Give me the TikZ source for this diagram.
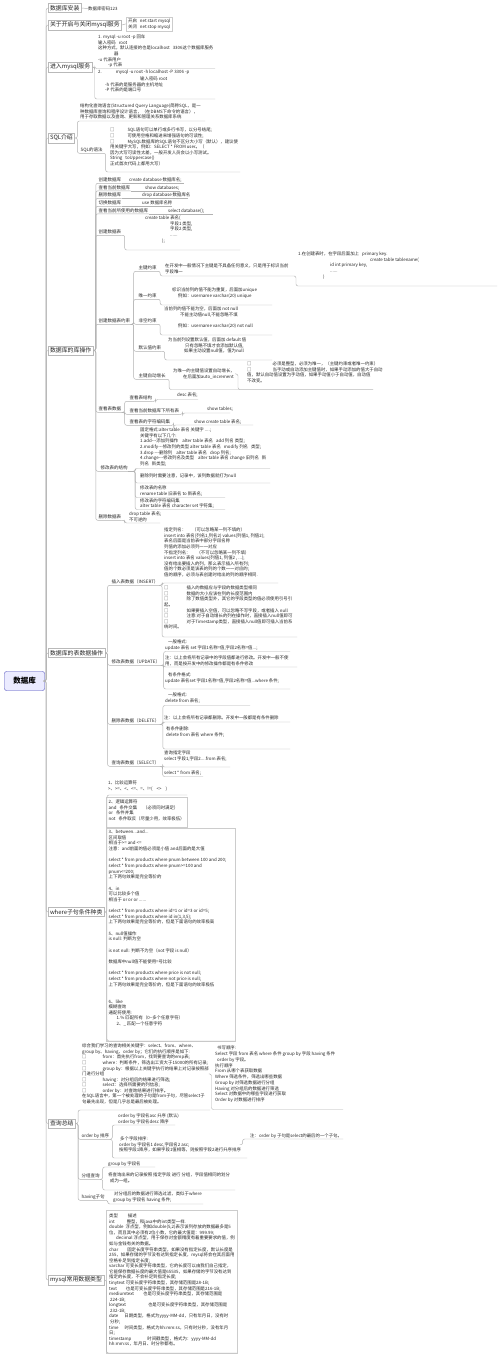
\documentclass[tikz,border=0pt]{standalone}
\usepackage{fontspec}
\setmainfont{Noto Sans CJK SC}
\usetikzlibrary{shadows}
\begin{document}
\begin{tikzpicture}[x=1pt,y=-1pt,
 lvl1/.style={draw=gray!55,fill=white,font=\fontsize{5.9}{7}\selectfont,text=black!85,inner xsep=1.8pt,inner ysep=1.7pt,anchor=west,drop shadow={shadow xshift=0.5pt,shadow yshift=-0.5pt,opacity=0.25}},
 lab/.style={font=\fontsize{4.5}{5.6}\selectfont,text=black!85,anchor=west,inner xsep=0.4pt,inner ysep=0.8pt,text height=3.9pt,text depth=0.7pt},
 txt/.style={font=\fontsize{4.4}{5.6}\selectfont,text=black!85,align=left,anchor=north west,inner sep=0pt,yshift=2.2pt},
 conn/.style={draw=gray!60,line width=0.45pt,rounded corners=2pt},
 bx/.style={draw=gray!40,line width=0.4pt}]
\useasboundingbox (0,0) rectangle (500,1358);
\fill[white] (0,0) rectangle (500,1358);

% root
\node[draw=blue!45!gray,fill=blue!8,rounded corners=2pt,minimum width=40pt,minimum height=19pt,font=\fontsize{7.5}{8}\selectfont\bfseries,inner sep=1pt] (root) at (24.5,681) {数据库};

% level 1
\node[lvl1] (n1) at (48,8) {数据库安装};
\node[lvl1] (n2) at (48,25) {关于开启与关闭mysql服务};
\node[lvl1] (n3) at (48,67) {进入mysql服务};
\node[lvl1] (n4) at (48,138) {SQL介绍};
\node[lvl1] (n5) at (48,350.5) {数据库的库操作};
\node[lvl1] (n6) at (48,653) {数据库的表数据操作};
\node[lvl1] (n7) at (48,912) {where子句条件种类};
\node[lvl1] (n8) at (48,1123.5) {查询总结};
\node[lvl1] (n9) at (48,1280) {mysql常用数据类型};
\foreach \n in {n1,n2,n3,n4,n5,n6,n7,n8,n9}
  \draw[conn] (root.east) -- ++(1.5,0) |- (\n.west);

% branch 1
\node[txt] (a1) at (88,8.5) {数据库密码123};
\draw[conn] (n1.east) -- (a1.west);

% branch 2
\node[txt,draw=gray!40,inner sep=2pt] (a2) at (126,18.7) {开启\hspace{3pt}net start mysql\\关闭\hspace{3pt}net stop mysql};
\draw[conn] (n2.east) -- (a2.west);

% branch 3
\node[txt,font=\fontsize{4.4}{5.65}\selectfont] (b31) at (98,36.7) {1. mysql -u root -p 回车\\输入密码\hspace{3pt}root\\这种方式，默认连接的也是localhost\hspace{3pt}3306这个数据库服务\\\hspace*{16pt}器\\-u 代表用户\\\hspace*{10pt}-p 代表};
\node[txt] (b32) at (98,72.3) {2.\hspace{14pt}mysql -u root -h localhost -P 3306 -p\\[1pt]\hspace*{42pt}输入密码 root\\\hspace*{7pt}-h 代表的是服务器的主机地址\\\hspace*{7pt}-P 代表的是端口号};
\draw[conn] (n3.east) -- ++(2.5,0) |- (215,68.5);
\draw[conn] (n3.east) -- ++(2.5,0) |- (215,99);

% branch 4
\node[txt] (c41) at (80,106) {结构化查询语言(Structured Query Language)简称SQL，是一\\种数据库查询和程序设计语言，（在DBMS下命令的语言），\\用于存取数据以及查询、更新和管理关系数据库系统};
\node[lab] (c42) at (80,150) {SQL的语法};
\node[txt,font=\fontsize{4.4}{5.65}\selectfont] (c43) at (110,130) {□\hspace{13pt}SQL语句可以单行或多行书写，以分号结尾;\\□\hspace{13pt}可使用空格和缩进来增强语句的可读性;\\□\hspace{13pt}MySQL数据库的SQL语句不区分大小写（默认），建议使\\用关键字大写，例如：SELECT * FROM user。（\\因为大写可读性太差，一般开发人员会以小写测试。\\String\hspace{3pt}toUppercase()\\正式首次代码上都用大写）};
\draw[conn] (n4.east) -- ++(2.5,0) |- (205,121);
\draw[conn] (n4.east) -- ++(2.5,0) |- (c42.south east);
\draw[conn] (c42.south east) -- ++(2.5,0) |- (240,172);

% branch 5
\node[lab] (L51) at (98,180) {创建数据库};
\node[txt] (C51) at (129,180) {create database 数据库名;};
\node[lab] (L52) at (98,187.5) {查看当前数据库};
\node[txt] (C52) at (145,187.5) {show databases;};
\node[lab] (L53) at (98,195) {删除数据库};
\node[txt] (C53) at (142,195) {drop database 数据库名};
\node[lab] (L54) at (98,203) {切换数据库};
\node[txt] (C54) at (142,203) {use 数据库名称};
\node[lab] (L55) at (98,210.5) {查看当前所使用的数据库};
\node[txt] (C55) at (168,210.5) {select database();};
\draw[conn] (L51.south east) -- (L51.south east -| 184,0);
\draw[conn] (L52.south east) -- (L52.south east -| 180,0);
\draw[conn] (L53.south east) -- (L53.south east -| 188,0);
\draw[conn] (L54.south east) -- (L54.south east -| 172,0);
\draw[conn] (L55.south east) -- (L55.south east -| 213,0);

\node[lab] (L56) at (98,232) {创建数据表};
\node[txt] (C56) at (145,218) {create table 表名(\\\hspace*{25pt}字段1 类型,\\\hspace*{25pt}字段2 类型,\\\hspace*{25pt}......\\\hspace*{17pt});};
\draw[conn] (L56.south east) -- ++(3,0) |- (240,250);

\node[lab] (L57) at (98,321) {创建数据表约束};
\node[lab] (S1) at (138,268) {主键约束};
\node[txt] (S1c) at (165,266) {在开发中一般情况下主键是不具备任何意义，只是用于标识当前\\字段唯一};
\node[txt] (S1d) at (298,254) {1.在创建表时，在字段后面加上\hspace{3pt}primary key.\\\hspace*{72pt}create table tablename(\\\hspace*{32pt}id int primary key,\\\hspace*{32pt}......\\\hspace*{25pt})};
\draw[conn] (S1.south east) -- ++(3,0) |- (293,276) -- ++(3,0) |- (497,286);
\node[lab] (S2) at (138,296) {唯一约束};
\node[txt] (S2c) at (172,290) {标识当前列的值不能为重复，后面加unique\\\hspace*{6pt}例如：username varchar(20) unique};
\draw[conn] (S2.south east) -- ++(3,0) |- (272,305);
\node[lab] (S3) at (138,321) {非空约束};
\node[txt] (S3c) at (164,309) {当前列的值不能为空，后面加 not null\\\hspace*{16pt}不能主动值null,不能忽略不填\\[5.4pt]\hspace*{14pt}例如：username varchar(20) not null};
\draw[conn] (S3.south east) -- ++(3,0) |- (272,335);
\node[lab] (S4) at (138,348) {默认值约束};
\node[txt] (S4c) at (168,340) {为当前列设置默认值，后面加 default 值\\\hspace*{17pt}只有忽略不填才会添加默认值,\\\hspace*{16pt}如果主动设置null值，值为null};
\draw[conn] (S4.south east) -- ++(3,0) |- (272,360);
\node[lab] (S5) at (138,376) {主键自动增长};
\node[txt] (S5c) at (173,371) {为唯一的主键值设置自动增长，\\\hspace*{10pt}在后面加auto\_increment};
\node[txt] (S5d) at (247,364) {□\hspace{21pt}必须是整型，必须为唯一，（主键约束或者唯一约束）\\□\hspace{21pt}当手动或自动添加主键值时，如果手动添加的值大于自动\\值，默认自动值设置为手动值，如果手动值小于自动值，自动值\\不改变。};
\draw[conn] (S5.south east) -- ++(3,0) |- (373,389.5);
\draw[conn] (S5c.east) -- ++(3,0) |- (373,389.5);
\foreach \s in {S1,S2,S3,S4,S5}
  \draw[conn] (L57.south east) -- ++(3,0) |- (\s.south east);

\node[lab] (L58) at (98,409) {查看表数据};
\node[lab] (T1) at (129,398) {查看表结构};
\node[txt] (T1c) at (177,395) {desc 表名;};
\node[lab] (T2) at (129,411) {查看当前数据库下所有表};
\node[txt] (T2c) at (207,409) {show tables;};
\node[lab] (T3) at (129,422) {查看表的字符编码集};
\node[txt] (T3c) at (194,422) {show create table 表名;};
\draw[conn] (T1.south east) -- ++(3,0) |- (198,399.5);
\draw[conn] (T2.south east) -- ++(3,0) |- (230,413);
\draw[conn] (T3.south east) -- ++(3,0) |- (253,425);
\foreach \s in {T1,T2,T3}
  \draw[conn] (L58.south east) -- ++(3,0) |- (\s.south east);

\node[lab] (L59) at (100,468) {修改表的结构};
\node[txt] (M1) at (140,430) {固定格式:alter table 表名 关键字 ....;\\关键字有以下几个:\\1.add-{}-{}-添加列操作\hspace{4pt}alter table 表名\hspace{3pt}add 列名 类型;\\2.modify-{}-{}-修改列的类型 alter table 表名\hspace{3pt}modify 列名\hspace{3pt}类型;\\3.drop -{}-{}-删除列\hspace{4pt}alter table 表名\hspace{3pt}drop 列名;\\4.change-{}-{}-修改列名及类型\hspace{4pt}alter table 表名 change 旧列名\hspace{3pt}新\\列名\hspace{3pt}新类型;};
\node[txt] (M2) at (140,475.5) {删除列时需要注意，记录中，该列数据就打为null};
\node[txt] (M3) at (140,488) {修改表的名称\\rename table 旧表名 to 新表名;};
\node[txt] (M4) at (140,500.5) {修改表的字符编码集\\alter table 表名 character set 字符集;};
\draw[conn] (L59.south east) -- ++(7,0) |- (270,468.5);
\draw[conn] (L59.south east) -- ++(7,0) |- (270,483);
\draw[conn] (L59.south east) -- ++(7,0) |- (225,497.5);
\draw[conn] (L59.south east) -- ++(7,0) |- (225,509.5);

\node[lab] (L5A) at (98,517) {删除数据表};
\node[txt] (C5A) at (129,514) {drop table 表名;\\不可逆的};
\draw[conn] (L5A.south east) -- ++(3,0) |- (160,523);

\foreach \L in {L51,L52,L53,L54,L55,L56,L57,L58,L59,L5A}
  \draw[conn] (n5.east) -- ++(2.5,0) |- (\L.south east);

% branch 6
\node[lab] (I) at (111,582) {插入表数据（INSERT）};
\node[txt] (I1) at (164,530) {指定列名：\hspace{6pt}（可以忽略某一列不填的）\\insert into 表名(列名1,列名2) values(列值1, 列值2);\\表名后面是当前表中部分字段名称\\列值的添加必须列一一对应\\不指定列名：\hspace{6pt}（不可以忽略某一列不填）\\insert into 表名 values(列值1, 列值2 , ...);\\没有给出要插入的列，那么表示插入所有列;\\值的个数必须是该表的列的个数一一对应的;\\值的顺序，必须与表创建时给出的列的顺序相同.};
\node[txt] (I2) at (164,588) {□\hspace{18pt}插入的数据应与字段的数据类型相同\\□\hspace{18pt}数据的大小应该在列的长度范围内\\□\hspace{18pt}除了数值类型外，其它的字段类型的值必须使用引号引\\起。\\□\hspace{18pt}如果要插入空值，可以忽略不写字段，或者插入 null\\□\hspace{18pt}注意:对于自动增长的列在操作时，直接插入null值即可\\□\hspace{18pt}对于Timestamp类型，直接插入null值即可插入当前系\\统时间。};
\draw[conn] (I.south east) -- ++(3,0) |- (278,583);
\draw[conn] (I.south east) -- ++(3,0) |- (297,637);

\node[lab] (U) at (111,662) {修改表数据（UPDATE）};
\node[txt] (U1) at (165,642) {\hspace*{3pt}一般格式:\\update 表名 set 字段1名称=值,字段2名称=值...;};
\node[txt] (U2) at (165,658) {注：以上会将所有记录中的字段值都进行修改。开发中一般不使\\用，而是按开发中的修改操作都是有条件修改};
\node[txt] (U3) at (165,675) {\hspace*{3pt}有条件格式:\\update 表名set 字段1名称=值,字段2名称=值...where 条件;};
\draw[conn] (U.south east) -- ++(3,0) |- (290,651.5);
\draw[conn] (U.south east) -- ++(3,0) |- (297,667);
\draw[conn] (U.south east) -- ++(3,0) |- (290,689);

\node[lab] (D) at (111,721) {删除表数据（DELETE）};
\node[txt] (D1) at (165,695) {\hspace*{3pt}一般格式:\\delete from 表名;};
\node[txt] (D2) at (164,718) {注：以上会将所有记录都删除。开发中一般都是有条件删除};
\node[txt] (D3) at (166,729) {有条件删除:\\delete from 表名 where 条件;};
\draw[conn] (D.south east) -- ++(3,0) |- (250,705.5);
\draw[conn] (D.south east) -- ++(3,0) |- (290,722);
\draw[conn] (D.south east) -- ++(3,0) |- (290,749);

\node[lab] (S) at (111,763) {查询表数据（SELECT）};
\node[txt] (Q1s) at (164,753) {查询指定字段\\select 字段1,字段2....from 表名;};
\node[txt] (Q2s) at (164,773) {select * from 表名;};
\draw[conn] (S.south east) -- ++(3,0) |- (230,767);
\draw[conn] (S.south east) -- ++(3,0) |- (203,776.5);

\foreach \L in {I,U,D,S}
  \draw[conn] (n6.east) -- ++(2.5,0) |- (\L.south east);

% branch 7
\node[txt] (W1) at (108,783) {1、比较运算符\\>、>=、<、<=、=、!=(\hspace{4pt}<>\hspace{4pt})};
\draw[bx] (106,797.5) rectangle (187,827);
\node[txt] (W2) at (108.5,802) {2、逻辑运算符\\and\hspace{3pt}条件交集\hspace{6pt}（必须同时满足）\\or\hspace{3pt}条件并集\\not\hspace{3pt}条件取反（尽量少用，效率极低）};
\draw[bx] (106,828.5) rectangle (235,1041);
\node[txt,font=\fontsize{4.4}{5.65}\selectfont] (W3) at (108.5,832) {3、between...and...\\区间取值\\相当于>= and <=\\注意：and前面的值必须是小值 and后面的是大值\\[5.65pt]select * from products where pnum between 100 and 200;\\select * from products where pnum>=100 and\\pnum<=200;\\上下两句效果是完全等价的\\[5.65pt]4、in\\可以比较多个值\\相当于 or or or ......\\[5.65pt]select * from products where id=1 or id=3 or id=5;\\select * from products where id in(1,3,5);\\上下两句效果是完全等价的，但是下面语句的效率极高\\[5.65pt]5、null值操作\\is null: 判断为空\\[5.65pt]is not null: 判断不为空（not 字段 is null）\\[5.65pt]数据库中null值不能使用=号比较\\[5.65pt]select * from products where price is not null;\\select * from products where not price is null;\\上下两句效果是完全等价的，但是下面语句的效率极低\\[11.3pt]6、like\\模糊查询\\通配符使用:\\\hspace*{8pt}1.\% 匹配所有（0\textasciitilde 多个任意字符）\\\hspace*{8pt}2、\_ 匹配一个任意字符};
\draw[conn] (n7.east) -- ++(2.5,0) |- (187,795);
\draw[conn] (n7.east) -- ++(2.5,0) |- (235,1041);

% branch 8
\node[txt,font=\fontsize{4.4}{5.57}\selectfont] (Q1) at (82,1046) {综合我们学习的查询相关关键字：select、from、where、\\group by、having、order by；它们的执行顺序是如下:\\□\hspace{16pt}from：首先执行from，找到要查询的emp表;\\□\hspace{16pt}where：判断条件，筛选出工资大于15000的所有记录;\\□\hspace{16pt}group by：根据以上关键字执行的结果上对记录按照部\\门进行分组\\□\hspace{16pt}having：对分组后的结果进行筛选;\\□\hspace{16pt}select：选择所需要的列信息;\\□\hspace{16pt}order by：对查询结果进行排序。\\在SQL语言中，第一个被处理的子句是from子句，尽管select子\\句最先出现，但是几乎总是最后被处理。};
\node[txt,font=\fontsize{4.4}{5.78}\selectfont] (Q1b) at (215,1048) {\hspace*{2pt}书写顺序:\\Select 字段 from 表名 where 条件 group by 字段 having 条件\\\hspace*{2pt}order by 字段。\\执行顺序\\From 从哪个表获取数据\\Where 筛选条件，筛选出哪些数据\\Group by 对筛选数据进行分组\\Having 对分组后的数据进行筛选\\Select 对数据中的哪些字段进行获取\\Order by 对数据进行排序};
\draw[conn] (n8.east) -- ++(2.5,0) |- (210,1110);
\draw[conn] (Q1.east) -- ++(2.5,0) |- (343,1109.5);

\node[lab] (Q2) at (81,1136) {order by 排序};
\node[txt] (Q2a) at (118,1116) {order by 字段名asc 升序 (默认)\\order by 字段名desc 降序};
\node[txt] (Q2b) at (119,1139) {\hspace*{1pt}多个字段排序:\\order by 字段名1 desc,字段名2 asc;\\按照字段1降序，如果字段1值相等，则按照字段2进行升序排序};
\node[txt] (Q2c) at (250,1136) {注：order by 子句是select的最后的一个子句。};
\draw[conn] (Q2.south east) -- ++(2.5,0) |- (175,1125);
\draw[conn] (Q2.south east) -- ++(2.5,0) |- (247,1158);
\draw[conn] (Q2b.east) -- ++(1.5,0) |- (343,1139);

\node[lab] (Q3) at (81,1176) {分组查询};
\node[txt] (Q3a) at (108,1164) {group by 字段名};
\node[txt] (Q3b) at (108,1175) {将查询出来的记录按照 指定字段 进行 分组，字段值相同的划分\\\hspace*{2pt}成为一组。};
\draw[conn] (Q3.south east) -- ++(2.5,0) |- (155,1167);
\draw[conn] (Q3.south east) -- ++(2.5,0) |- (235,1190);

\node[lab] (Q4) at (81,1197) {having子句};
\node[txt] (Q4a) at (113,1194) {\hspace*{1pt}对分组后的数据进行筛选过滤，类似于where\\group by 字段名 having 条件;};
\draw[conn] (Q4.south east) -- ++(2.5,0) |- (203,1204);

\foreach \L in {Q2,Q3,Q4}
  \draw[conn] (n8.east) -- ++(2.5,0) |- (\L.south east);

% branch 9
\draw[bx] (106,1210) rectangle (237,1353);
\node[txt,font=\fontsize{4.4}{5.57}\selectfont] (T) at (109,1216) {类型\hspace{10pt}描述\\int\hspace{12pt}整型，和java中的int类型一样.\\double\hspace{2pt}浮点型，例如double(5,2)表示该列存放的数据最多是5\\位，而且其中必须有2位小数，它的最大值是：999.99;\\\hspace*{7pt}decimal 浮点型，用于保存对金额精度有着重要要求的值，例\\如与金钱有关的数据。\\char\hspace{9pt}固定长度字符串类型，如果没有指定长度，默认长度是\\255，如果存储的字节没有达到指定长度，mysql将会在其后面用\\空格补足到指定长度;\\varchar 可变长度字符串类型，它的长度可以由我们自己指定，\\它能保存数据长度的最大值是65535，如果存储的字节没有达到\\指定的长度，不会补足到指定长度;\\tinytext 可变长度字符串类型，其存储范围是28-1B;\\text\hspace{9pt}也是可变长度字符串类型，其存储范围是216-1B;\\mediumtext\hspace{9pt}也是可变长度字符串类型，其存储范围是\\\hspace*{1pt}224-1B;\\longtext\hspace{22pt}也是可变长度字符串类型，其存储范围是\\\hspace*{1pt}232-1B;\\date\hspace{6pt}日期类型，格式为yyyy-MM-dd，只有年月日，没有时\\\hspace*{1pt}分秒;\\time\hspace{6pt}时间类型，格式为hh:mm:ss，只有时分秒，没有年月\\日;\\timestamp\hspace{16pt}时间戳类型，格式为：yyyy-MM-dd\\hh:mm:ss，年月日、时分秒都有。};
\draw[conn] (n9.east) -- ++(2.5,0) |- (237,1353);
\end{tikzpicture}
\end{document}
